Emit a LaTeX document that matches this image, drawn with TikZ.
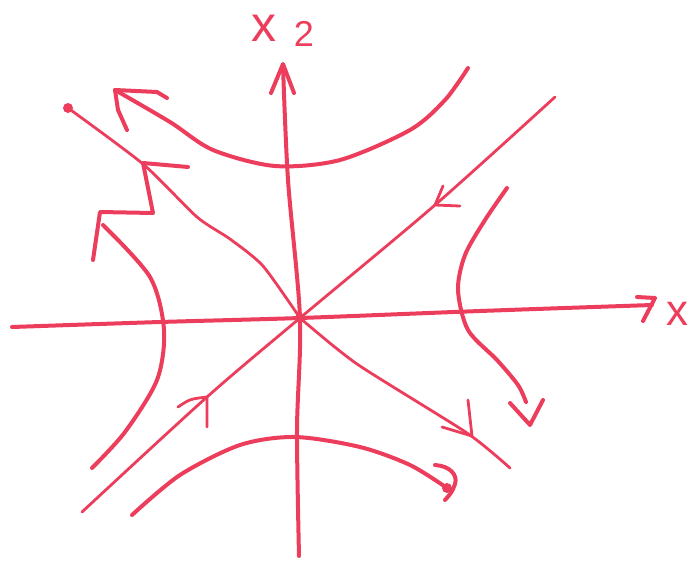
\documentclass[tikz,border=0pt]{standalone}
\usepackage{fontspec}
\setmainfont{Liberation Sans}
\definecolor{penred}{RGB}{236,62,92}
\begin{document}
\begin{tikzpicture}[x=1pt,y=-1pt,
  thick pen/.style={draw=penred,line width=4pt,line cap=round,line join=round},
  fine pen/.style={draw=penred,line width=2.8pt,line cap=round,line join=round},
  lab/.style={text=penred,inner sep=0pt,anchor=center}]
\useasboundingbox (0,0) rectangle (688,562);
% named points
\coordinate (O) at (300,318);
\coordinate (xend) at (652,305);
\coordinate (xstart) at (12,327);
\coordinate (yend) at (283,66);
\coordinate (ystart) at (299,556);
\coordinate (dA1) at (555,97);
\coordinate (dA2) at (82,512);
\coordinate (dB1) at (68,108);
\coordinate (dB2) at (510,468);
% horizontal axis
\draw[thick pen] plot[smooth] coordinates {(xstart) (160,322) (O) (480,311) (xend)};
\draw[thick pen] (637,297) -- (655,298) -- (643,321);
\node[lab,font=\fontsize{44}{44}\selectfont] (lx) at (677,314) {x};
% vertical axis
\draw[thick pen] plot[smooth] coordinates {(ystart) (297,430) (O) (288,180) (yend)};
\draw[thick pen] (271,93) -- (283,64) -- (294,93);
\node[lab,font=\fontsize{50}{50}\selectfont] (lx2a) at (264,28) {x};
\node[lab,font=\fontsize{36}{36}\selectfont] (lx2b) at (304,34) {2};
% diagonal A (stable direction)
\draw[fine pen] plot[smooth] coordinates {(dA1) (435,205) (O) (207,397) (dA2)};
\draw[fine pen] (443,186) -- (435,205) -- (460,206);
\draw[fine pen] (178,407) .. controls (190,399) .. (207,397) -- (207,427);
% diagonal B (unstable direction)
\draw[fine pen] plot[smooth,tension=0.4] coordinates {(dB1) (143,164) (197,217) (230,239) (263,266) (O)};
\draw[fine pen] plot[smooth,tension=0.4] coordinates {(O) (357,364) (467,433) (dB2)};
\fill[penred] (dB1) circle (5);
\fill[penred] (O) circle (5);
\draw[fine pen] (468,400) -- (472,436) -- (442,427);
% arrowhead strokes near upper-left
\draw[thick pen] (188,167) -- (143,163) -- (153,213) -- (100,212) -- (93,260);
% upper hyperbola
\draw[thick pen] plot[smooth] coordinates {(468,68) (445,100) (410,130) (340,160) (275,166) (213,150) (170,122) (115,90)};
\draw[thick pen] (127,130) -- (118,110) -- (115,90) -- (157,92) -- (167,98);
% left hyperbola
\draw[thick pen] plot[smooth] coordinates {(103,225) (150,277) (164,330) (157,380) (125,432) (92,468)};
% right hyperbola
\draw[thick pen] plot[smooth] coordinates {(507,188) (485,220) (465,255) (458,290) (468,330) (497,360) (518,385) (526,402)};
\draw[thick pen] (510,403) -- (530,425) -- (543,400);
% lower hyperbola
\draw[thick pen] plot[smooth] coordinates {(132,515) (180,475) (240,445) (295,437) (360,447) (410,465) (447,488)};
\draw[thick pen] (435,465) .. controls (450,466) and (458,475) .. (455,484) .. controls (452,492) .. (445,500);
\fill[penred] (447,488) circle (5);
\end{tikzpicture}
\end{document}
